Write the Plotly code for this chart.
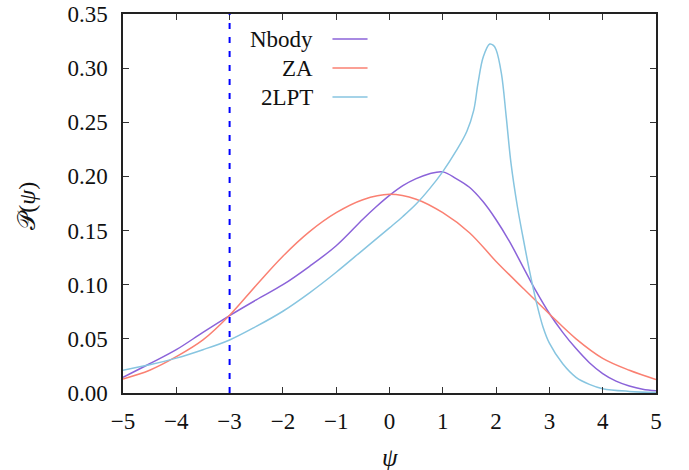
import plotly.graph_objects as go

# ---------------- data ----------------
nbody_x = [-5.0, -4.5, -4.0, -3.5, -3.0, -2.5, -2.0, -1.5, -1.0, -0.5, -0.25, 0.0, 0.25, 0.5, 0.75,
           1.0, 1.25, 1.5, 1.75, 2.0, 2.25, 2.5, 2.75, 3.0, 3.25, 3.5, 3.75, 4.0, 4.25, 4.5, 4.75, 5.0]
nbody_y = [0.0145, 0.027, 0.040, 0.056, 0.0715, 0.086, 0.100, 0.117, 0.136, 0.1605, 0.172, 0.1825, 0.1915, 0.198, 0.2025,
           0.2042, 0.198, 0.190, 0.177, 0.160, 0.140, 0.117, 0.094, 0.0734, 0.056, 0.041, 0.028, 0.018, 0.011, 0.0065, 0.0035, 0.002]

za_x = [-5.0, -4.5, -4.0, -3.5, -3.0, -2.5, -2.0, -1.5, -1.0, -0.5, 0.0, 0.5, 1.0, 1.5,
        2.0, 2.5, 3.0, 3.5, 4.0, 4.5, 5.0]
za_y = [0.013, 0.021, 0.0335, 0.049, 0.0718, 0.0995, 0.1263, 0.149, 0.1665, 0.1785, 0.1835, 0.179, 0.1665, 0.148,
        0.1215, 0.097, 0.073, 0.050, 0.032, 0.021, 0.0125]

lpt_x = [-5.0, -4.5, -4.0, -3.5, -3.0, -2.5, -2.0, -1.5, -1.0, -0.5, 0.0, 0.25, 0.5, 0.75, 1.0,
         1.25, 1.45, 1.58, 1.66, 1.76, 1.88, 1.95, 2.0, 2.1, 2.19, 2.28, 2.4, 2.5, 2.63, 2.75,
         2.88, 3.0, 3.25, 3.5, 3.75, 4.0, 4.5, 5.0]
lpt_y = [0.021, 0.026, 0.0322, 0.040, 0.049, 0.0615, 0.0755, 0.0925, 0.1115, 0.132, 0.1525, 0.163, 0.1745, 0.1885, 0.2045,
         0.2235, 0.2415, 0.261, 0.286, 0.3105, 0.3223, 0.321, 0.317, 0.295, 0.255, 0.212, 0.172, 0.145, 0.112, 0.085,
         0.061, 0.046, 0.027, 0.0145, 0.008, 0.004, 0.0015, 0.0005]

series_names = ["Nbody", "ZA", "2LPT"]
series_colors = ["#8b63d9", "#fa8072", "#87c5e0"]

vline_x = -3

x_ticks = [-5, -4, -3, -2, -1, 0, 1, 2, 3, 4, 5]
x_ticklabels = ["\u22125", "\u22124", "\u22123", "\u22122", "\u22121", "0", "1", "2", "3", "4", "5"]
y_ticks = [0.0, 0.05, 0.10, 0.15, 0.20, 0.25, 0.30, 0.35]
y_ticklabels = ["0.00", "0.05", "0.10", "0.15", "0.20", "0.25", "0.30", "0.35"]

# ---------------- figure ----------------
FONT = "Liberation Serif, DejaVu Serif, serif"
fig = go.Figure()

for name, xs, ys, col in zip(series_names, [nbody_x, za_x, lpt_x], [nbody_y, za_y, lpt_y], series_colors):
    fig.add_trace(go.Scatter(x=xs, y=ys, mode="lines", name=name,
                             line=dict(color=col, width=1.5, shape="spline", smoothing=1.0),
                             showlegend=False))

fig.add_vline(x=vline_x, line=dict(color="#0000ff", width=2, dash="6px,8px"))

# manual legend (text to the left of the line sample, gnuplot style)
row_y = [0.934, 0.8575, 0.781]
for name, col, ry in zip(series_names, series_colors, row_y):
    fig.add_annotation(x=0.36, y=ry, xref="paper", yref="paper", text=name, showarrow=False,
                       xanchor="right", yanchor="middle", font=dict(family=FONT, size=23, color="#111"))
    fig.add_shape(type="line", xref="paper", yref="paper", x0=0.393, x1=0.4588, y0=ry, y1=ry,
                  line=dict(color=col, width=1.5))

# axis titles
fig.add_annotation(x=0.5, y=-0.169, xref="paper", yref="paper", text="<i>\u03c8</i>", showarrow=False,
                   xanchor="center", yanchor="middle", font=dict(family=FONT, size=25, color="#111"))
fig.add_annotation(x=-0.179, y=0.493, xref="paper", yref="paper", text="\U0001D4AB(<i>\u03c8</i>)",
                   showarrow=False, textangle=-90, xanchor="center", yanchor="middle",
                   font=dict(family=FONT, size=24, color="#111"))

axis_common = dict(showgrid=False, zeroline=False, showline=True, linecolor="#222", linewidth=1.5,
                   mirror="ticks", ticks="inside", ticklen=6, tickwidth=1.2, tickcolor="#333",
                   automargin=False, tickfont=dict(family=FONT, size=23, color="#111"))

fig.update_xaxes(range=[-5, 5], tickvals=x_ticks, ticktext=x_ticklabels, ticklabelstandoff=7, **axis_common)
fig.update_yaxes(range=[0, 0.35], tickvals=y_ticks, ticktext=y_ticklabels, ticklabelstandoff=9, **axis_common)

fig.update_layout(width=689, height=470, plot_bgcolor="white", paper_bgcolor="white",
                  margin=dict(l=123.3, r=33, t=14, b=77), font=dict(family=FONT))

fig.write_html("out.html", config={"displayModeBar": False},
               post_script="document.body.style.margin='0';")
